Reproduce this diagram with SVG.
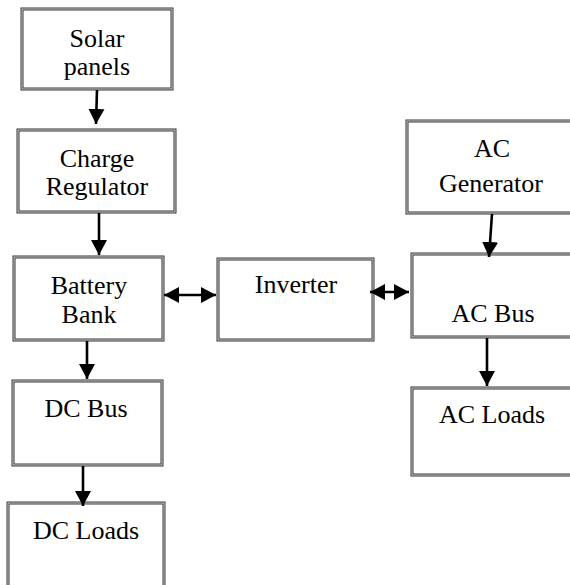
<svg xmlns="http://www.w3.org/2000/svg" width="570" height="585" viewBox="0 0 570 585">
<defs>
<style>
.bx{fill:#fff;stroke:#333;stroke-width:3}
.bi{fill:none;stroke:#d8d8d8;stroke-width:1}
.t{font-family:"Liberation Serif","Times New Roman",serif;font-size:26px;fill:#000;text-anchor:middle}
.c{stroke:#000;stroke-width:2.6;fill:none}
</style>
<marker id="ah" markerWidth="16" markerHeight="18" refX="15" refY="8.5" orient="auto-start-reverse" markerUnits="userSpaceOnUse">
<path d="M0,0.5 L15,8.5 L0,16.5 Z" fill="#000"/>
</marker>
</defs>
<rect width="570" height="585" fill="#fff"/>
<g id="solar"><rect class="bx" x="22" y="9" width="150" height="80"/><rect class="bi" x="22" y="9" width="150" height="80"/><text class="t" x="97" y="47">Solar</text><text class="t" x="97" y="75">panels</text></g>
<g id="charge"><rect class="bx" x="18" y="130" width="157" height="82"/><rect class="bi" x="18" y="130" width="157" height="82"/><text class="t" x="97" y="167">Charge</text><text class="t" x="97" y="195">Regulator</text></g>
<g id="battery"><rect class="bx" x="14" y="257" width="149" height="83"/><rect class="bi" x="14" y="257" width="149" height="83"/><text class="t" x="89" y="294">Battery</text><text class="t" x="89" y="323">Bank</text></g>
<g id="inverter"><rect class="bx" x="218" y="259" width="155" height="81"/><rect class="bi" x="218" y="259" width="155" height="81"/><text class="t" x="296" y="293">Inverter</text></g>
<g id="acgen"><rect class="bx" x="407" y="121" width="170" height="92"/><rect class="bi" x="407" y="121" width="170" height="92"/><text class="t" x="492" y="157">AC</text><text class="t" x="491" y="192">Generator</text></g>
<g id="acbus"><rect class="bx" x="412" y="254" width="165" height="83"/><rect class="bi" x="412" y="254" width="165" height="83"/><text class="t" x="493" y="322">AC Bus</text></g>
<g id="acloads"><rect class="bx" x="412" y="388" width="165" height="87"/><rect class="bi" x="412" y="388" width="165" height="87"/><text class="t" x="492" y="423">AC Loads</text></g>
<g id="dcbus"><rect class="bx" x="13" y="381" width="149" height="84"/><rect class="bi" x="13" y="381" width="149" height="84"/><text class="t" x="86" y="417">DC Bus</text></g>
<g id="dcloads"><rect class="bx" x="8" y="503" width="156" height="90"/><rect class="bi" x="8" y="503" width="156" height="90"/><text class="t" x="86" y="539">DC Loads</text></g>
<g id="connectors">
<line class="c" x1="97" y1="90" x2="96" y2="124" marker-end="url(#ah)"/>
<line class="c" x1="99" y1="213" x2="99" y2="255" marker-end="url(#ah)"/>
<line class="c" x1="87" y1="341" x2="87" y2="379" marker-end="url(#ah)"/>
<line class="c" x1="83" y1="466" x2="83" y2="506" marker-end="url(#ah)"/>
<line class="c" x1="492" y1="214" x2="489" y2="257" marker-end="url(#ah)"/>
<line class="c" x1="487" y1="338" x2="487" y2="386" marker-end="url(#ah)"/>
<line class="c" x1="164" y1="295" x2="216" y2="295" marker-start="url(#ah)" marker-end="url(#ah)"/>
<line class="c" x1="370" y1="292" x2="409" y2="292" marker-start="url(#ah)" marker-end="url(#ah)"/>
</g>
</svg>
